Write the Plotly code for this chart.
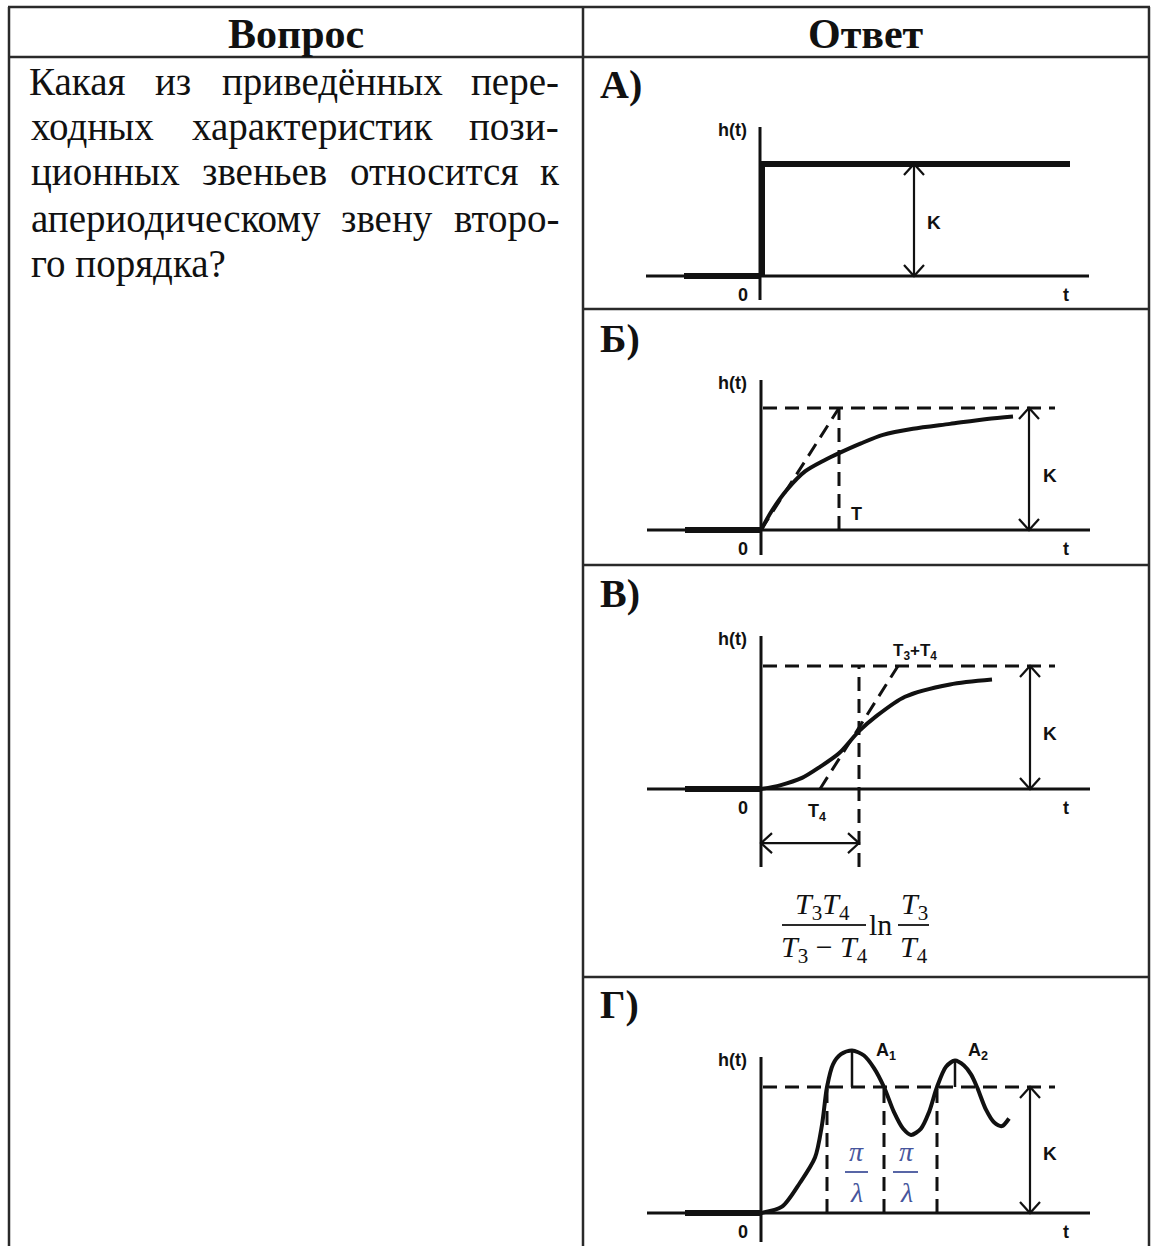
import plotly.graph_objects as go

W, H = 1157, 1246

# ---------------- text content ----------------
header_question = "Вопрос"
header_answer = "Ответ"
question_lines = [
    ["Какая", "из", "приведённых", "пере-"],
    ["ходных", "характеристик", "пози-"],
    ["ционных", "звеньев", "относится", "к"],
    ["апериодическому", "звену", "второ-"],
    ["го порядка?"],
]
panel_labels = ["А)", "Б)", "В)", "Г)"]

# ---------------- data (t in units, h in units of K) ----------------
t_axis = [-1.14, 3.29]          # extent of the t axis
t_input = [-0.76, 0.0]          # thick zero input before t = 0
K_level_t = [0.02, 2.94]        # dashed steady-state level

# A) ideal (proportional) step
a_step_t = [0.02, 0.02, 3.10]
a_step_h = [0.0, 1.0, 1.0]
a_K_t = 1.54

# Б) first-order aperiodic
b_curve_t = [0, 0.11, 0.26, 0.44, 0.63, 0.78, 1.00, 1.22, 1.52, 1.89, 2.26, 2.52]
b_curve_h = [0, 0.16, 0.33, 0.48, 0.57, 0.63, 0.71, 0.78, 0.83, 0.87, 0.91, 0.93]
b_T = 0.78
b_K_t = 2.68

# В) second-order aperiodic
v_curve_t = [0, 0.19, 0.41, 0.59, 0.78, 0.98, 1.15, 1.44, 1.89, 2.31]
v_curve_h = [0, 0.03, 0.09, 0.18, 0.29, 0.47, 0.59, 0.75, 0.85, 0.89]
v_tangent_t = [0.59, 1.37]
v_tangent_h = [0.0, 1.0]
v_t_inf = 0.98
v_K_t = 2.69
v_dim_h = -0.44

# Г) oscillatory
g_curve_t = [0, 0.21, 0.39, 0.54, 0.61, 0.66, 0.72, 0.80, 0.91, 1.03, 1.13, 1.23,
             1.33, 1.42, 1.50, 1.60, 1.68, 1.76, 1.85, 1.94, 2.03, 2.10, 2.16,
             2.25, 2.33, 2.41, 2.48]
g_curve_h = [0, 0.05, 0.24, 0.44, 0.70, 1.00, 1.18, 1.26, 1.29, 1.25, 1.15, 1.00,
             0.80, 0.67, 0.62, 0.67, 0.80, 1.00, 1.16, 1.21, 1.17, 1.10, 1.00,
             0.82, 0.72, 0.69, 0.75]
g_cross_t = [0.66, 1.23, 1.76]
g_peak_t = [0.91, 1.94]
g_peak_h = [1.29, 1.21]
g_K_t = 2.69

# ---------------- layout geometry (pixels) ----------------
panels = [
    dict(ox=760, oy=276, kpx=112, ytop=127, ybot=300, box=(110, 306)),
    dict(ox=761, oy=530, kpx=122, ytop=380, ybot=555, box=(362, 562)),
    dict(ox=761, oy=789, kpx=123, ytop=636, ybot=867, box=(620, 975)),
    dict(ox=761, oy=1213, kpx=126, ytop=1057, ybot=1242, box=(1030, 1246)),
]
XPX = 100.0  # pixels per t-unit
XL, XR = 630, 1110

INK = "#111111"
fig = go.Figure()


def P(x, y):
    return x / W, 1 - y / H


def line(n, xs, ys, width=3, dash=None, color=INK, shape="linear"):
    fig.add_trace(go.Scatter(
        x=xs, y=ys, mode="lines", xaxis="x" if n == 1 else f"x{n}",
        yaxis="y" if n == 1 else f"y{n}",
        line=dict(color=color, width=width, dash=dash, shape=shape, smoothing=0.8),
        hoverinfo="skip", showlegend=False))


def chevrons_v(n, t, h_lo, h_hi):
    p = panels[n - 1]
    dt, dh = 10 / XPX, 11 / p["kpx"]
    xs = [t - dt, t, t + dt, None, t - dt, t, t + dt]
    ys = [h_hi - dh, h_hi, h_hi - dh, None, h_lo + dh, h_lo, h_lo + dh]
    line(n, xs, ys, width=2.2)


def chevrons_h(n, h, t_lo, t_hi):
    p = panels[n - 1]
    dt, dh = 11 / XPX, 10 / p["kpx"]
    xs = [t_lo + dt, t_lo, t_lo + dt, None, t_hi - dt, t_hi, t_hi - dt]
    ys = [h + dh, h, h - dh, None, h + dh, h, h - dh]
    line(n, xs, ys, width=2.2)


DASH = "14px,8px"

# axes for each panel
for i, p in enumerate(panels, start=1):
    xa = "xaxis" if i == 1 else f"xaxis{i}"
    ya = "yaxis" if i == 1 else f"yaxis{i}"
    btop, bbot = p["box"]
    fig.layout[xa] = dict(domain=[XL / W, XR / W],
                          range=[(XL - p["ox"]) / XPX, (XR - p["ox"]) / XPX],
                          visible=False, fixedrange=True,
                          anchor="y" if i == 1 else f"y{i}")
    fig.layout[ya] = dict(domain=[1 - bbot / H, 1 - btop / H],
                          range=[(p["oy"] - bbot) / p["kpx"], (p["oy"] - btop) / p["kpx"]],
                          visible=False, fixedrange=True,
                          anchor="x" if i == 1 else f"x{i}")
    # coordinate axes
    line(i, t_axis, [0, 0], width=3)
    line(i, [0, 0], [(p["oy"] - p["ybot"]) / p["kpx"], (p["oy"] - p["ytop"]) / p["kpx"]], width=3)
    line(i, t_input, [0, 0], width=6)

# A
line(1, a_step_t, a_step_h, width=6)
line(1, [a_K_t, a_K_t], [0, 1], width=2.2)
chevrons_v(1, a_K_t, 0, 1)

# Б
line(2, K_level_t, [1, 1], width=3, dash=DASH)
line(2, [0, b_T], [0, 1], width=3, dash=DASH)
line(2, [b_T, b_T], [0, 1], width=3, dash=DASH)
line(2, b_curve_t, b_curve_h, width=4, shape="spline")
line(2, [b_K_t, b_K_t], [0, 1], width=2.2)
chevrons_v(2, b_K_t, 0, 1)

# В
p3 = panels[2]
line(3, K_level_t, [1, 1], width=3, dash=DASH)
line(3, v_tangent_t, v_tangent_h, width=3, dash=DASH)
line(3, [v_t_inf, v_t_inf], [(p3["oy"] - p3["ybot"]) / p3["kpx"], 1], width=3, dash=DASH)
line(3, v_curve_t, v_curve_h, width=4, shape="spline")
line(3, [v_K_t, v_K_t], [0, 1], width=2.2)
chevrons_v(3, v_K_t, 0, 1)
line(3, [0, v_t_inf], [v_dim_h, v_dim_h], width=2.2)
chevrons_h(3, v_dim_h, 0, v_t_inf)

# Г
line(4, K_level_t, [1, 1], width=3, dash=DASH)
for tc in g_cross_t:
    line(4, [tc, tc], [0, 1], width=3, dash=DASH)
for tp, hp in zip(g_peak_t, g_peak_h):
    line(4, [tp, tp], [1, hp], width=2.5)
line(4, g_curve_t, g_curve_h, width=4, shape="spline")
line(4, [g_K_t, g_K_t], [0, 1], width=2.2)
chevrons_v(4, g_K_t, 0, 1)

# ---------------- table frame ----------------
BC = "#2a2a2a"
shapes = []
def hline(y, x0, x1, w=2.5, color=BC):
    shapes.append(dict(type="line", xref="paper", yref="paper",
                       x0=x0 / W, x1=x1 / W, y0=1 - y / H, y1=1 - y / H,
                       line=dict(color=color, width=w)))
def vline(x, y0, y1, w=2.5):
    shapes.append(dict(type="line", xref="paper", yref="paper",
                       x0=x / W, x1=x / W, y0=1 - y0 / H, y1=1 - y1 / H,
                       line=dict(color=BC, width=w)))

hline(7, 8, 1150)
hline(57, 8, 1150)
vline(9, 7, 1246)
vline(583, 7, 1246)
vline(1149, 7, 1246)
for yy in [309, 565, 977]:
    hline(yy, 583, 1150)

PL = "#46559c"
# fraction bars
hline(925, 782, 866, 2)
hline(925, 898, 929, 2)
hline(1172, 845, 868, 1.8, PL)
hline(1172, 893, 918, 1.8, PL)

fig.update_layout(shapes=shapes)

# ---------------- annotations ----------------
ann = []
def text(x, y, s, size, family="Liberation Serif", xanchor="center", color=INK,
         weight="normal", style="normal"):
    xx, yy = P(x, y)
    ann.append(dict(x=xx, y=yy, xref="paper", yref="paper", text=s, showarrow=False,
                    xanchor=xanchor, yanchor="middle",
                    font=dict(family=family, size=size, color=color,
                              weight=weight, style=style)))

# headers
text(296, 34, header_question, 42, weight="bold")
text(866, 34, header_answer, 42, weight="bold")

# question text – justified by word placement
word_pos = [
    [(27, "l"), (173, "c"), (332, "c"), (561, "r")],
    [(29, "l"), (312, "c"), (561, "r")],
    [(29, "l"), (264, "c"), (434, "c"), (561, "r")],
    [(29, "l"), (387, "c"), (561, "r")],
    [(29, "l")],
]
baselines = [95, 140, 185, 232, 277]
anchor_map = {"l": "left", "c": "center", "r": "right"}
fs_body = 39
for words, poss, bl in zip(question_lines, word_pos, baselines):
    for w_, (xp, a) in zip(words, poss):
        text(xp, bl - 0.34 * fs_body, w_, fs_body, xanchor=anchor_map[a])

# panel labels
label_baselines = [98, 352, 607, 1018]
for lab, bl in zip(panel_labels, label_baselines):
    text(598, bl - 0.34 * 40, lab, 40, xanchor="left", weight="bold")

SANS = "Liberation Sans"
for p in panels:
    text(732, p["ytop"] + 3, "h(t)", 18, SANS, weight="bold")
    text(743, p["oy"] + 19, "0", 18, SANS, weight="bold")
    text(1066, p["oy"] + 19, "t", 18, SANS, weight="bold")

# K labels
for (kx, ky) in [(934, 222), (1050, 475), (1050, 733), (1050, 1153)]:
    text(kx, ky, "K", 19, SANS, weight="bold")

# Б / В / Г annotations
text(856, 514, "T", 18, SANS, weight="bold")
text(817, 812, "T<sub>4</sub>", 18, SANS, weight="bold")
text(915, 652, "T<sub>3</sub>+T<sub>4</sub>", 17, SANS, weight="bold")
text(886, 1051, "A<sub>1</sub>", 18, SANS, weight="bold")
text(978, 1051, "A<sub>2</sub>", 18, SANS, weight="bold")

# formula under В
FS = 30
text(822, 906, "<i>T</i><sub>3</sub><i>T</i><sub>4</sub>", FS)
text(824, 949, "<i>T</i><sub>3</sub> − <i>T</i><sub>4</sub>", FS)
text(881, 924, "ln", FS)
text(914, 906, "<i>T</i><sub>3</sub>", FS)
text(914, 949, "<i>T</i><sub>4</sub>", FS)

# π/λ
for xc in [856, 906]:
    text(xc, 1151, "π", 28, color=PL, style="italic")
    text(xc, 1192, "λ", 28, color=PL, style="italic")

fig.update_layout(annotations=ann, width=W, height=H,
                  margin=dict(l=0, r=0, t=0, b=0),
                  paper_bgcolor="white", plot_bgcolor="rgba(0,0,0,0)",
                  showlegend=False)

fig.write_html("out.html", config={"displayModeBar": False},
               post_script="document.body.style.margin='0px';document.body.style.overflow='hidden';")
